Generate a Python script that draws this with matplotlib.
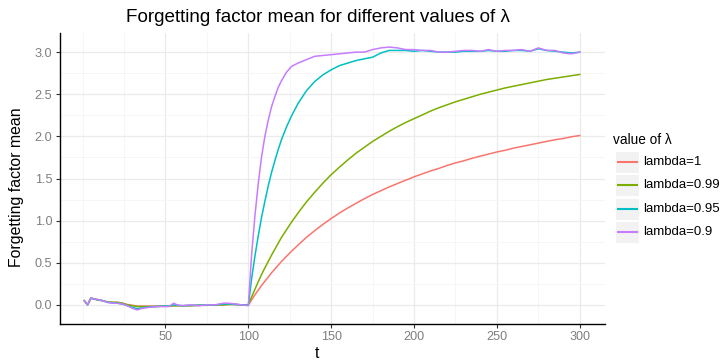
import matplotlib
matplotlib.use("Agg")
import matplotlib.pyplot as plt
from matplotlib.lines import Line2D
from matplotlib.patches import Rectangle
from matplotlib.ticker import FixedLocator

plt.rcParams['font.family'] = ['Liberation Sans', 'DejaVu Sans']

# ---------------- data ----------------
t = [1, 3, 5, 7, 9, 12, 15, 18, 21, 24, 27, 30, 33, 36, 40, 44, 48, 52, 55, 57,
     60, 65, 70, 75, 80, 85, 88, 92, 96, 100,
     102, 104, 106, 108, 110, 112, 114, 116, 118, 120, 123, 126,
     130, 135, 140, 145, 150, 155, 160, 165, 170, 175, 180, 185, 190, 195,
     200, 205, 210, 215, 220, 225, 230, 235, 240, 245, 250, 255, 260, 265,
     270, 275, 280, 285, 290, 295, 300]

lam_1 = [0.05, 0.00, 0.08, 0.07, 0.06, 0.05, 0.035, 0.03, 0.03, 0.02, 0.005, -0.005,
         -0.015, -0.015, -0.015, -0.015, -0.015, -0.015, -0.01, -0.01, -0.01, -0.01,
         -0.005, -0.005, 0.0, 0.0, 0.005, 0.005, 0.0, 0.0,
         0.06, 0.12, 0.175, 0.23, 0.28, 0.33, 0.38, 0.425, 0.47, 0.515, 0.575, 0.635,
         0.71, 0.80, 0.88, 0.955, 1.025, 1.09, 1.15, 1.205, 1.26, 1.31, 1.355, 1.40,
         1.44, 1.48, 1.52, 1.555, 1.59, 1.62, 1.655, 1.685, 1.71, 1.74, 1.765, 1.79,
         1.815, 1.835, 1.86, 1.88, 1.90, 1.92, 1.94, 1.96, 1.975, 1.995, 2.01]

lam_099 = [0.05, 0.00, 0.08, 0.07, 0.06, 0.05, 0.035, 0.03, 0.03, 0.02, 0.0, -0.01,
           -0.02, -0.02, -0.02, -0.02, -0.015, -0.015, -0.01, -0.01, -0.01, -0.01,
           -0.005, -0.005, 0.0, 0.0, 0.005, 0.005, 0.0, 0.0,
           0.095, 0.185, 0.275, 0.36, 0.44, 0.515, 0.59, 0.66, 0.73, 0.80, 0.89, 0.98,
           1.09, 1.22, 1.335, 1.445, 1.545, 1.635, 1.72, 1.80, 1.87, 1.94, 2.0, 2.06,
           2.115, 2.165, 2.21, 2.255, 2.30, 2.34, 2.375, 2.41, 2.44, 2.47, 2.50, 2.525,
           2.55, 2.575, 2.595, 2.615, 2.635, 2.655, 2.675, 2.69, 2.705, 2.72, 2.735]

lam_095 = [0.05, 0.0, 0.08, 0.07, 0.06, 0.05, 0.03, 0.025, 0.02, 0.01, -0.01, -0.03,
           -0.045, -0.035, -0.025, -0.02, -0.015, -0.015, 0.0, -0.005, -0.01, -0.005,
           -0.005, 0.0, 0.0, 0.01, 0.01, 0.005, 0.0, -0.005,
           0.31, 0.58, 0.82, 1.04, 1.23, 1.41, 1.57, 1.71, 1.84, 1.96, 2.11, 2.24,
           2.39, 2.54, 2.65, 2.73, 2.79, 2.84, 2.87, 2.90, 2.92, 2.94, 2.99, 3.02,
           3.02, 3.02, 3.01, 3.02, 3.01, 3.00, 3.00, 3.00, 3.01, 3.01, 3.01, 3.02,
           3.01, 3.01, 3.02, 3.02, 3.01, 3.04, 3.02, 3.01, 3.00, 2.99, 3.00]

lam_09 = [0.05, 0.0, 0.08, 0.07, 0.065, 0.05, 0.03, 0.02, 0.02, 0.01, -0.01, -0.04,
          -0.06, -0.04, -0.03, -0.02, -0.02, -0.02, 0.02, 0.0, -0.01, 0.0, -0.01,
          0.0, 0.0, 0.02, 0.02, 0.01, 0.0, -0.01,
          0.60, 1.06, 1.44, 1.76, 2.0, 2.19, 2.35, 2.47, 2.58, 2.66, 2.76, 2.83,
          2.87, 2.91, 2.95, 2.96, 2.97, 2.98, 2.99, 3.0, 3.0, 3.03, 3.05, 3.06,
          3.05, 3.03, 3.03, 3.02, 3.02, 3.0, 3.0, 3.01, 3.02, 3.02, 3.01, 3.03,
          3.01, 3.02, 3.02, 3.03, 3.01, 3.05, 3.02, 3.02, 2.99, 2.98, 3.00]

series_labels = ["lambda=1", "lambda=0.99", "lambda=0.95", "lambda=0.9"]
series_values = [lam_1, lam_099, lam_095, lam_09]
colors = ["#F8766D", "#7CAE00", "#00BFC4", "#C77CFF"]

x_major = [50, 100, 150, 200, 250, 300]
x_minor = [0, 25, 75, 125, 175, 225, 275]
y_major = [0.0, 0.5, 1.0, 1.5, 2.0, 2.5, 3.0]
y_minor = [0.25, 0.75, 1.25, 1.75, 2.25, 2.75]

# ---------------- figure ----------------
W, H = 724, 360
fig = plt.figure(figsize=(W / 100, H / 100), dpi=100)
fig.patch.set_facecolor("white")

L, R, T, B = 59.5, 604.5, 33, 324
ax = fig.add_axes([L / W, 1 - B / H, (R - L) / W, (B - T) / H])
ax.set_facecolor("white")

for vals, c, lab in zip(series_values, colors, series_labels):
    ax.plot(t, vals, color=c, lw=1.1, label=lab, solid_joinstyle="round")

ax.set_xlim(-13.95, 314.95)
ax.set_ylim(-0.227, 3.227)
ax.xaxis.set_major_locator(FixedLocator(x_major))
ax.xaxis.set_minor_locator(FixedLocator(x_minor))
ax.yaxis.set_major_locator(FixedLocator(y_major))
ax.yaxis.set_minor_locator(FixedLocator(y_minor))
ax.set_xticklabels([str(v) for v in x_major])
ax.set_yticklabels([f"{v:.1f}" for v in y_major])

ax.grid(which="major", color="#EBEBEB", lw=0.9)
ax.grid(which="minor", color="#F5F5F5", lw=0.6)
ax.set_axisbelow(True)

for s in ["top", "right"]:
    ax.spines[s].set_visible(False)
for s in ["left", "bottom"]:
    ax.spines[s].set_color("black")
    ax.spines[s].set_linewidth(1.0)

ax.tick_params(which="major", length=2.9, width=0.8, color="#333333",
               labelcolor="#7F7F7F", labelsize=9.1, pad=2.2)
ax.tick_params(which="minor", length=0)

def fx(px):
    return px / W

def fy(py):
    return 1 - py / H

fig.text(fx(318), fy(17), "Forgetting factor mean for different values of λ",
         ha="center", va="center", fontsize=13.6, color="black")
fig.text(fx(17), fy(187), "Forgetting factor mean", rotation=90,
         ha="center", va="center", fontsize=11.4, color="black")
fig.text(fx(317), fy(353), "t", ha="center", va="center", fontsize=11.4, color="black")

# legend (manual, ggplot style)
fig.text(fx(613), fy(140), "value of λ", ha="left", va="center", fontsize=9.8, color="black")
for i, (lab, c) in enumerate(zip(series_labels, colors)):
    yc = 162.3 + 23.1 * i
    fig.add_artist(Rectangle((fx(615), fy(yc + 11)), 24 / W, 22 / H,
                             transform=fig.transFigure, facecolor="#F2F2F2",
                             edgecolor="white", lw=0.8))
    fig.add_artist(Line2D([fx(617.5), fx(636.5)], [fy(yc), fy(yc)],
                          transform=fig.transFigure, color=c, lw=1.5))
    fig.text(fx(643), fy(yc), lab, ha="left", va="center", fontsize=9.5, color="black")

fig.savefig("out.png", dpi=100, facecolor="white")
